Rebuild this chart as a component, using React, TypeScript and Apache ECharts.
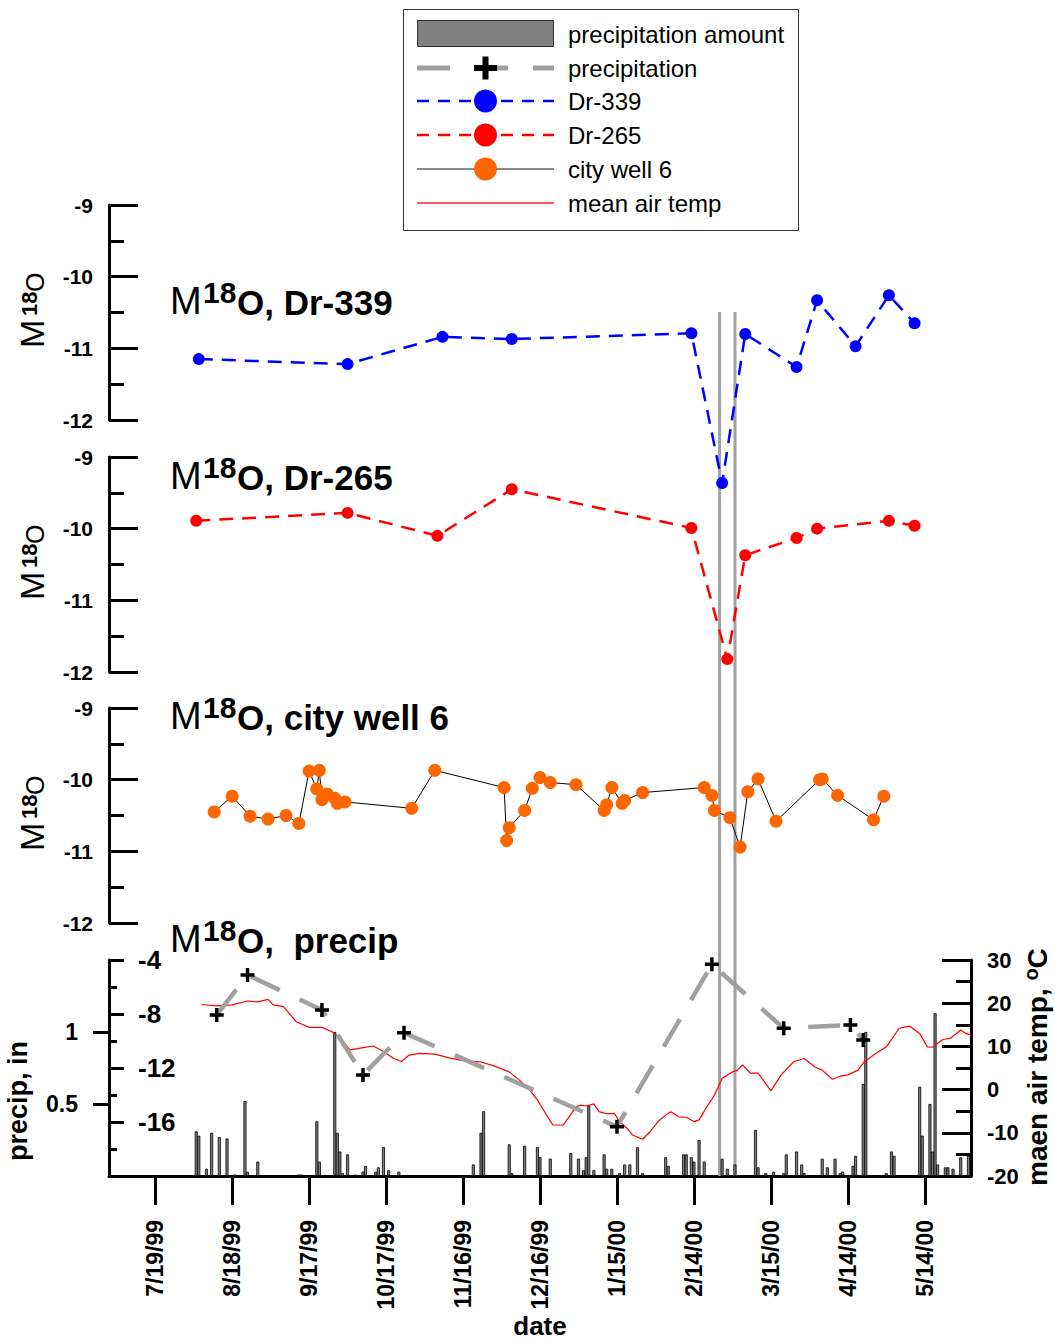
import React, { useEffect, useRef } from 'react';
import * as echarts from 'echarts';

// ---------------- data ----------------
const axisStartDate = '7/1/99';
const axisEndDate = '6/1/00';
const xTickDates = ['7/19/99', '8/18/99', '9/17/99', '10/17/99', '11/16/99', '12/16/99', '1/15/00', '2/14/00', '3/15/00', '4/14/00', '5/14/00'];
const eventDates = ['2/24/00', '3/1/00'];

const dr339Dates = ['8/5/99', '10/2/99', '11/8/99', '12/5/99', '2/13/00', '2/25/00', '3/5/00', '3/25/00', '4/2/00', '4/17/00', '4/30/00', '5/10/00'];
const dr339Values = [-11.15, -11.22, -10.84, -10.87, -10.79, -12.88, -10.8, -11.26, -10.33, -10.97, -10.26, -10.65];

const dr265Dates = ['8/4/99', '10/2/99', '11/6/99', '12/5/99', '2/13/00', '2/27/00', '3/5/00', '3/25/00', '4/2/00', '4/30/00', '5/10/00'];
const dr265Values = [-9.89, -9.78, -10.1, -9.45, -9.99, -11.82, -10.37, -10.13, -10.0, -9.89, -9.96];

const well6Dates = ['8/11/99', '8/18/99', '8/25/99', '9/1/99', '9/8/99', '9/13/99', '9/17/99', '9/20/99', '9/21/99', '9/22/99', '9/24/99', '9/27/99', '9/28/99', '10/1/99', '10/27/99', '11/5/99', '12/2/99', '12/3/99', '12/4/99', '12/10/99', '12/13/99', '12/16/99', '12/20/99', '12/30/99', '1/10/00', '1/11/00', '1/13/00', '1/17/00', '1/18/00', '1/25/00', '2/18/00', '2/21/00', '2/22/00', '2/28/00', '3/3/00', '3/6/00', '3/10/00', '3/17/00', '4/3/00', '4/4/00', '4/10/00', '4/24/00', '4/28/00'];
const well6Values = [-10.45, -10.23, -10.51, -10.55, -10.5, -10.61, -9.88, -10.13, -9.87, -10.28, -10.2, -10.26, -10.33, -10.31, -10.4, -9.87, -10.11, -10.85, -10.67, -10.43, -10.12, -9.97, -10.04, -10.07, -10.43, -10.35, -10.11, -10.33, -10.29, -10.18, -10.11, -10.22, -10.43, -10.53, -10.94, -10.17, -9.99, -10.58, -10.0, -9.99, -10.22, -10.56, -10.23];

const precipIsoDates = ['8/12/99', '8/24/99', '9/22/99', '10/8/99', '10/24/99', '1/15/00', '2/21/00', '3/20/00', '4/15/00', '4/20/00'];
const precipIsoValues = [-8.07, -5.11, -7.7, -12.52, -9.39, -16.35, -4.32, -9.06, -8.81, -9.93];

const tempDates = ['8/6/99', '8/12/99', '8/18/99', '8/24/99', '8/28/99', '9/1/99', '9/3/99', '9/7/99', '9/12/99', '9/17/99', '9/22/99', '9/26/99', '9/29/99', '10/3/99', '10/7/99', '10/12/99', '10/16/99', '10/20/99', '10/23/99', '10/26/99', '10/30/99', '11/5/99', '11/11/99', '11/17/99', '11/23/99', '11/28/99', '12/4/99', '12/8/99', '12/12/99', '12/15/99', '12/19/99', '12/21/99', '12/25/99', '12/27/99', '12/30/99', '1/1/00', '1/3/00', '1/6/00', '1/8/00', '1/11/00', '1/14/00', '1/16/00', '1/19/00', '1/21/00', '1/25/00', '1/28/00', '1/31/00', '2/3/00', '2/5/00', '2/8/00', '2/11/00', '2/14/00', '2/16/00', '2/19/00', '2/22/00', '2/25/00', '2/29/00', '3/2/00', '3/4/00', '3/7/00', '3/10/00', '3/12/00', '3/15/00', '3/19/00', '3/24/00', '3/28/00', '4/1/00', '4/4/00', '4/8/00', '4/11/00', '4/14/00', '4/18/00', '4/20/00', '4/25/00', '4/29/00', '5/4/00', '5/8/00', '5/12/00', '5/15/00', '5/17/00', '5/21/00', '5/24/00', '5/28/00', '5/30/00', '6/1/00'];
const tempValues = [19.7, 19.4, 19.6, 20.5, 20.3, 20.9, 19.6, 19.2, 15.7, 14.4, 14.4, 13.4, 11.9, 9.2, 9.6, 10.1, 8.8, 7.2, 6.5, 8.0, 8.4, 8.2, 7.3, 6.6, 6.4, 5.5, 4.1, 2.2, -0.1, -2.4, -6.3, -8.2, -8.2, -6.6, -4.0, -3.6, -3.8, -3.3, -5.1, -5.6, -5.5, -7.4, -9.0, -10.5, -11.5, -9.7, -7.4, -5.9, -5.1, -6.3, -6.4, -7.4, -7.0, -4.0, -1.3, 2.6, 4.1, 4.5, 5.7, 3.8, 3.8, 2.2, -0.3, 3.4, 6.5, 7.2, 5.3, 4.5, 2.4, 3.1, 3.4, 4.5, 6.2, 8.4, 9.9, 14.2, 14.7, 13.0, 9.9, 9.8, 11.6, 11.9, 13.8, 13.0, 12.6];

const precipDates = ['8/4/99', '8/5/99', '8/8/99', '8/10/99', '8/13/99', '8/16/99', '8/19/99', '8/23/99', '8/24/99', '8/28/99', '9/13/99', '9/14/99', '9/20/99', '9/21/99', '9/27/99', '9/28/99', '9/29/99', '9/30/99', '10/2/99', '10/5/99', '10/8/99', '10/9/99', '10/13/99', '10/14/99', '10/16/99', '10/18/99', '10/22/99', '11/20/99', '11/23/99', '11/24/99', '12/4/99', '12/5/99', '12/10/99', '12/15/99', '12/16/99', '12/20/99', '12/28/99', '12/31/99', '1/2/00', '1/3/00', '1/4/00', '1/6/00', '1/10/00', '1/11/00', '1/13/00', '1/16/00', '1/18/00', '1/20/00', '1/23/00', '1/25/00', '2/3/00', '2/4/00', '2/10/00', '2/11/00', '2/13/00', '2/14/00', '2/16/00', '2/18/00', '2/25/00', '2/27/00', '3/1/00', '3/9/00', '3/10/00', '3/13/00', '3/16/00', '3/20/00', '3/21/00', '3/25/00', '3/27/00', '3/28/00', '4/4/00', '4/6/00', '4/9/00', '4/11/00', '4/12/00', '4/16/00', '4/17/00', '4/20/00', '4/21/00', '4/29/00', '5/1/00', '5/2/00', '5/12/00', '5/13/00', '5/16/00', '5/17/00', '5/18/00', '5/19/00', '5/22/00', '5/23/00', '5/25/00', '5/28/00', '5/31/00'];
const precipAmounts = [0.31, 0.28, 0.05, 0.3, 0.27, 0.26, 0.01, 0.52, 0.03, 0.1, 0.01, 0.01, 0.38, 0.1, 1.0, 0.3, 0.17, 0.02, 0.15, 0.01, 0.03, 0.07, 0.03, 0.06, 0.2, 0.04, 0.03, 0.08, 0.3, 0.45, 0.22, 0.02, 0.21, 0.2, 0.13, 0.12, 0.16, 0.12, 0.04, 0.13, 0.49, 0.04, 0.15, 0.05, 0.05, 0.02, 0.08, 0.08, 0.2, 0.02, 0.13, 0.07, 0.15, 0.15, 0.13, 0.1, 0.25, 0.1, 0.12, 0.05, 0.08, 0.32, 0.06, 0.02, 0.03, 0.02, 0.15, 0.17, 0.08, 0.02, 0.12, 0.06, 0.12, 0.02, 0.03, 0.07, 0.14, 0.64, 1.0, 0.02, 0.17, 0.14, 0.62, 0.28, 0.5, 0.17, 1.13, 0.08, 0.06, 0.06, 0.05, 0.13, 0.14];

const precipTickValues = [0.5, 1];
const panelTitles = ['Dr-339', 'Dr-265', 'city well 6', ' precip'];
const legendLabels = ['precipitation amount', 'precipitation', 'Dr-339', 'Dr-265', 'city well 6', 'mean air temp'];

// ---------------- helpers ----------------
const BASE = Date.UTC(1999, 6, 19);
const DAY = 86400000;
function toDay(s: string): number {
  const [m, d, y] = s.split('/').map(Number);
  const year = y < 50 ? 2000 + y : 1900 + y;
  return Math.round((Date.UTC(year, m - 1, d) - BASE) / DAY);
}
function fmtDay(v: number): string {
  const dt = new Date(BASE + Math.round(v) * DAY);
  const yy = String(dt.getUTCFullYear() % 100).padStart(2, '0');
  return `${dt.getUTCMonth() + 1}/${dt.getUTCDate()}/${yy}`;
}
const pairs = (dates: string[], vals: number[]) => dates.map((d, i) => [toDay(d), vals[i]]);

const FONT = '"Liberation Sans", Arial, Helvetica, sans-serif';
const X_MIN = toDay(axisStartDate);
const X_MAX = toDay(axisEndDate);
const xTicks = xTickDates.map(toDay);
const PLUS = 'path://M6,0H10V6H16V10H10V16H6V10H0V6H6Z';

function txt(x: number, y: number, text: string, fontSize: number, fontWeight: string, extra: any = {}) {
  return {
    type: 'text', x, y, silent: true,
    style: { text, fontSize, fontWeight, fontFamily: FONT, fill: '#000', align: 'left', verticalAlign: 'middle', ...extra },
  };
}

function deltaTitle(x: number, baseline: number, rest: string) {
  return {
    type: 'group', x, y: baseline, silent: true,
    children: [
      txt(0, -1 - 0.3465 * 38, 'M', 38, 'normal'),
      txt(33, -12 - 0.3465 * 30, '18', 30, 'bold'),
      txt(67, -0.3465 * 35, 'O, ' + rest, 35, 'bold'),
    ],
  };
}

function deltaAxisName(cx: number, cy: number) {
  return {
    type: 'group', x: cx, y: cy, rotation: Math.PI / 2, silent: true,
    children: [
      txt(-36, 10.3 - 0.3465 * 34, 'M', 34, 'normal'),
      txt(-4, 4 - 0.3465 * 22, '18', 22, 'bold'),
      txt(20, 10.3 - 0.3465 * 25, 'O', 25, 'normal'),
    ],
  };
}

function legendGraphics() {
  const ys = [34, 68, 101, 135, 169, 203];
  const els: any[] = [
    { type: 'rect', shape: { x: 403.5, y: 9.5, width: 395, height: 221 }, style: { fill: '#fff', stroke: '#333', lineWidth: 1 } },
    { type: 'rect', shape: { x: 417.5, y: 20.5, width: 136, height: 26 }, style: { fill: '#808080', stroke: '#333', lineWidth: 1 } },
    { type: 'line', shape: { x1: 417, y1: ys[1], x2: 554, y2: ys[1] }, style: { stroke: '#a0a0a0', lineWidth: 5, lineDash: [33, 25] } },
    { type: 'rect', shape: { x: 474, y: ys[1] - 3, width: 23, height: 6 }, style: { fill: '#000' } },
    { type: 'rect', shape: { x: 482.5, y: ys[1] - 11.5, width: 6, height: 23 }, style: { fill: '#000' } },
    { type: 'line', shape: { x1: 417, y1: ys[2], x2: 554, y2: ys[2] }, style: { stroke: '#0000ff', lineWidth: 2.5, lineDash: [12, 9] } },
    { type: 'circle', shape: { cx: 485.5, cy: ys[2], r: 11.5 }, style: { fill: '#0000ff' } },
    { type: 'line', shape: { x1: 417, y1: ys[3], x2: 554, y2: ys[3] }, style: { stroke: '#ff0000', lineWidth: 2.5, lineDash: [12, 9] } },
    { type: 'circle', shape: { cx: 485.5, cy: ys[3], r: 11.5 }, style: { fill: '#ff0000' } },
    { type: 'line', shape: { x1: 417, y1: ys[4], x2: 554, y2: ys[4] }, style: { stroke: '#606060', lineWidth: 1.5 } },
    { type: 'circle', shape: { cx: 485.5, cy: ys[4], r: 11.5 }, style: { fill: '#ff6600' } },
    { type: 'line', shape: { x1: 417, y1: ys[5], x2: 554, y2: ys[5] }, style: { stroke: '#ff2020', lineWidth: 1.5 } },
  ];
  legendLabels.forEach((l, i) => els.push(txt(568, ys[i], l, 24, 'normal')));
  return { type: 'group', silent: true, z: 100, children: els };
}

function tempAxisName() {
  return {
    type: 'group', x: 1037, y: 1067, rotation: Math.PI / 2, silent: true,
    children: [
      txt(-119, 0, 'maen air temp, ', 28, 'bold'),
      txt(86.4, 0.7 - 0.3465 * 20, 'o', 20, 'bold'),
      txt(98.6, 0, 'C', 28, 'bold'),
    ],
  };
}

const AX = { color: '#000', width: 3 };
const labelBase = { color: '#000', fontWeight: 'bold', fontFamily: FONT };

function panelYAxis(i: number) {
  return {
    gridIndex: i, type: 'value', min: -12, max: -9, interval: 1, position: 'left',
    axisLine: { show: true, onZero: false, lineStyle: AX },
    axisTick: { show: true, inside: true, length: 29, lineStyle: AX },
    minorTick: { show: true, splitNumber: 2, length: 15, lineStyle: AX },
    axisLabel: { show: true, margin: 16, fontSize: 21, ...labelBase },
    splitLine: { show: false }, minorSplitLine: { show: false },
  };
}

function buildOption(): any {
  const grids = [
    { left: 109, top: 205, width: 862, height: 215 },
    { left: 109, top: 457, width: 862, height: 215 },
    { left: 109, top: 708, width: 862, height: 215 },
    { left: 109, top: 960, width: 862, height: 216 },
    { left: 109, top: 312, width: 862, height: 864 },
  ].map((g) => ({ ...g, containLabel: false, outerBoundsMode: 'none' }));

  const xAxis = grids.map((_, i) => {
    if (i !== 3) return { gridIndex: i, type: 'value', min: X_MIN, max: X_MAX, show: false, axisLine: { onZero: false } };
    return {
      gridIndex: 3, type: 'value', min: X_MIN, max: X_MAX, position: 'bottom',
      axisLine: { show: true, onZero: false, lineStyle: AX },
      axisTick: { show: true, inside: false, length: 29, customValues: xTicks, lineStyle: AX },
      axisLabel: { show: true, customValues: xTicks, rotate: 90, margin: 44, fontSize: 23, ...labelBase, formatter: (v: number) => fmtDay(v) },
      splitLine: { show: false },
      name: 'date', nameLocation: 'middle', nameGap: 134,
      nameTextStyle: { fontSize: 26, ...labelBase },
    };
  });

  const yAxis = [
    panelYAxis(0), panelYAxis(1), panelYAxis(2),
    {
      gridIndex: 3, type: 'value', min: 0, max: 1.5, position: 'left',
      axisLine: { show: true, onZero: false, lineStyle: AX },
      axisTick: { show: true, inside: false, length: 16, customValues: precipTickValues, lineStyle: AX },
      axisLabel: { show: true, customValues: precipTickValues, margin: 31, fontSize: 23, ...labelBase, formatter: (v: number) => String(v) },
      splitLine: { show: false },
    },
    {
      gridIndex: 3, type: 'value', min: -20, max: -4, interval: 4, position: 'left',
      axisLine: { show: false, onZero: false },
      axisTick: { show: true, inside: true, length: 15, lineStyle: AX },
      minorTick: { show: true, splitNumber: 2, length: 8, lineStyle: AX },
      axisLabel: { show: true, inside: true, margin: 29, fontSize: 26, showMinLabel: false, ...labelBase },
      splitLine: { show: false }, minorSplitLine: { show: false },
    },
    {
      gridIndex: 3, type: 'value', min: -20, max: 30, interval: 10, position: 'right',
      axisLine: { show: true, onZero: false, lineStyle: AX },
      axisTick: { show: true, inside: true, length: 29, lineStyle: AX },
      minorTick: { show: true, splitNumber: 2, length: 15, lineStyle: AX },
      axisLabel: { show: true, margin: 16, fontSize: 22, ...labelBase },
      splitLine: { show: false }, minorSplitLine: { show: false },
    },
    { gridIndex: 4, type: 'value', min: 0, max: 1, show: false, axisLine: { onZero: false } },
  ];

  const dotLine = (name: string, xi: number, dates: string[], vals: number[], color: string) => ({
    type: 'line', name, xAxisIndex: xi, yAxisIndex: xi, data: pairs(dates, vals), clip: false,
    symbol: 'circle', symbolSize: 12, showAllSymbol: true, itemStyle: { color },
    lineStyle: { color, width: 2.5, type: [14, 9] }, z: 5, emphasis: { disabled: true },
  });

  const series: any[] = [
    {
      type: 'custom', name: 'events', xAxisIndex: 4, yAxisIndex: 6, silent: true, z: 1,
      data: eventDates.map((d) => [toDay(d), 0]),
      renderItem: (_p: any, api: any) => {
        const x = api.value(0);
        const a = api.coord([x, 0]);
        const b = api.coord([x, 1]);
        return { type: 'line', shape: { x1: a[0], y1: a[1], x2: b[0], y2: b[1] }, style: { stroke: '#a0a0a0', lineWidth: 3 } };
      },
    },
    dotLine('Dr-339', 0, dr339Dates, dr339Values, '#0000ff'),
    dotLine('Dr-265', 1, dr265Dates, dr265Values, '#ff0000'),
    {
      type: 'line', name: 'city well 6', xAxisIndex: 2, yAxisIndex: 2, data: pairs(well6Dates, well6Values),
      symbol: 'circle', symbolSize: 13, showAllSymbol: true, itemStyle: { color: '#ff6600' },
      lineStyle: { color: '#000', width: 1 }, z: 5, emphasis: { disabled: true },
    },
    {
      type: 'bar', name: 'precipitation amount', xAxisIndex: 3, yAxisIndex: 3, data: pairs(precipDates, precipAmounts),
      barWidth: 3, itemStyle: { color: '#808080', borderColor: '#000', borderWidth: 0.8 }, z: 2, emphasis: { disabled: true },
    },
    {
      type: 'line', name: 'mean air temp', xAxisIndex: 3, yAxisIndex: 5, data: pairs(tempDates, tempValues),
      symbol: 'none', lineStyle: { color: '#ff0000', width: 1.2 }, z: 3, emphasis: { disabled: true },
    },
    {
      type: 'line', name: 'precipitation', xAxisIndex: 3, yAxisIndex: 4, data: pairs(precipIsoDates, precipIsoValues),
      symbol: PLUS, symbolSize: 14, showAllSymbol: true, itemStyle: { color: '#000' },
      lineStyle: { color: '#a0a0a0', width: 4.5, type: [32, 22] }, z: 4, emphasis: { disabled: true },
    },
  ];

  const graphic = [
    legendGraphics(),
    deltaTitle(170, 315, panelTitles[0]),
    deltaTitle(170, 490, panelTitles[1]),
    deltaTitle(170, 730, panelTitles[2]),
    deltaTitle(170, 953, panelTitles[3]),
    deltaAxisName(33, 312),
    deltaAxisName(33, 564),
    deltaAxisName(33, 815),
    {
      type: 'text', x: 18, y: 1101, rotation: Math.PI / 2, silent: true,
      style: { text: 'precip, in', fontSize: 27, fontWeight: 'bold', fontFamily: FONT, fill: '#000', align: 'center', verticalAlign: 'middle' },
    },
    tempAxisName(),
  ];

  return {
    animation: false,
    backgroundColor: '#fff',
    textStyle: { fontFamily: FONT },
    grid: grids,
    xAxis,
    yAxis,
    series,
    graphic,
  };
}

export default function App() {
  const ref = useRef<HTMLDivElement>(null);
  useEffect(() => {
    if (!ref.current) return;
    const chart = echarts.init(ref.current, undefined, { renderer: 'svg' });
    chart.setOption(buildOption());
    return () => chart.dispose();
  }, []);
  return <div ref={ref} style={{ position: 'absolute', left: 0, top: 0, width: 1055, height: 1341, background: '#fff' }} />;
}
